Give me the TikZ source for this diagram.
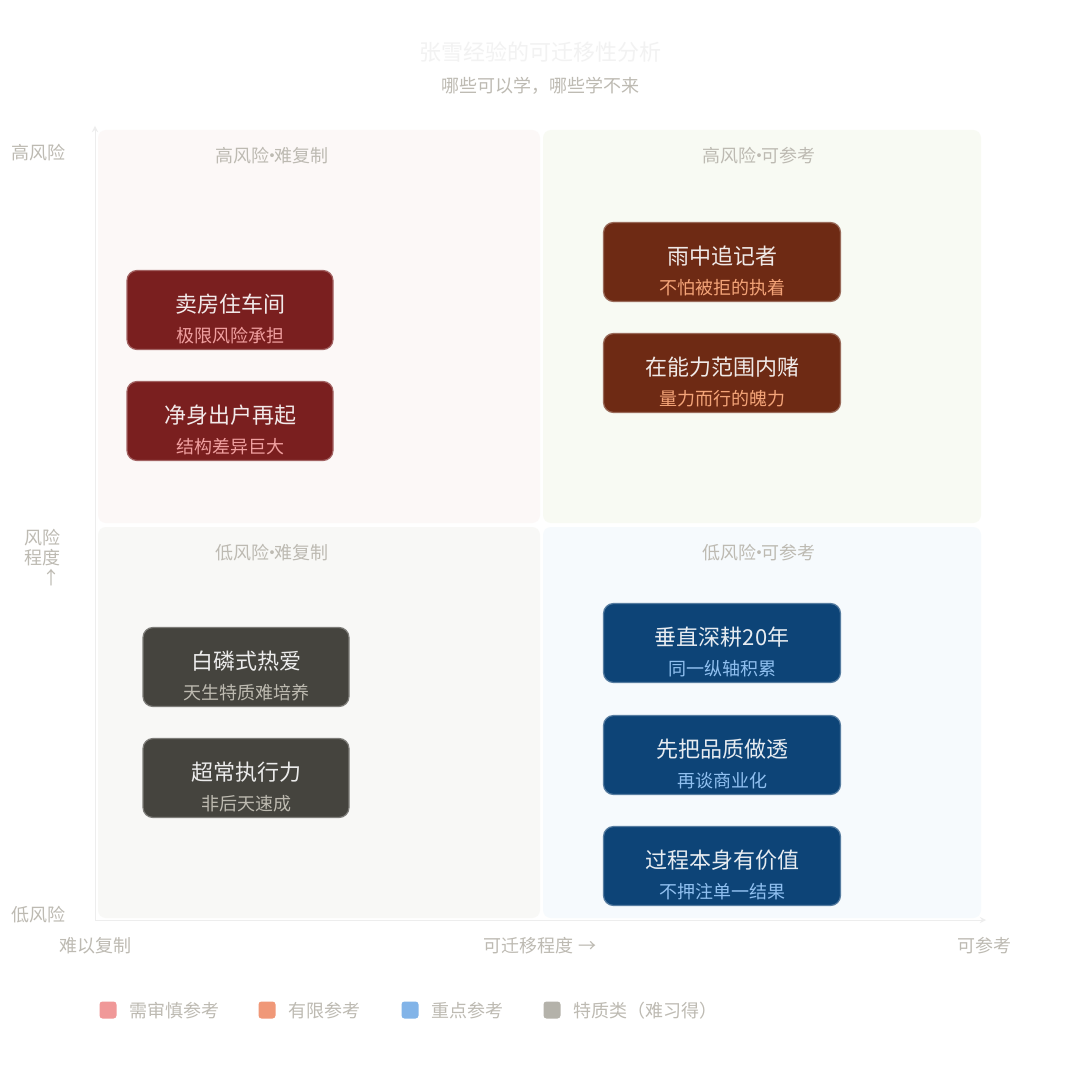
\documentclass[tikz,border=0pt]{standalone}
\usepackage{fontspec}
\newfontfamily\cjk{Noto Sans CJK SC}
\newcommand\md{\kern-3.2pt·\kern-3.2pt}
\definecolor{lbl}{HTML}{BDBAB2}
\tikzset{
 quad/.style={rounded corners=4pt,draw=none},
 card/.style={rounded corners=5pt,draw=#1!70!white,line width=0.6pt,fill=#1},
 qt/.style={text=lbl,font=\cjk\fontsize{9}{10}\selectfont},
 ax/.style={text=lbl,font=\cjk\fontsize{9}{10}\selectfont},
 leg/.style={rounded corners=1.5pt,minimum size=8.5pt,inner sep=0pt},
}
\definecolor{cred}{HTML}{7A1F1F}
\definecolor{cbrown}{HTML}{6E2A14}
\definecolor{cgray}{HTML}{45443E}
\definecolor{cblue}{HTML}{0D4477}
\begin{document}
\begin{tikzpicture}[x=0.5pt,y=-0.5pt]
\useasboundingbox[fill=white] (0,0) rectangle (1080,1080);
\node[font=\cjk\fontsize{11}{12}\selectfont,text=black!5] (title) at (540,52) {张雪经验的可迁移性分析};
\node[ax] (sub) at (540,86) {哪些可以学，哪些学不来};
\fill[quad,fill={rgb,255:red,252;green,248;blue,247}] (98,130) rectangle (540,523);
\fill[quad,fill={rgb,255:red,248;green,250;blue,243}] (543,130) rectangle (981,523);
\fill[quad,fill={rgb,255:red,248;green,248;blue,246}] (98,527) rectangle (540,918);
\fill[quad,fill={rgb,255:red,246;green,250;blue,253}] (543,527) rectangle (981,918);
\coordinate (o) at (95,920); \coordinate (yt) at (95,126); \coordinate (xt) at (986,920);
\draw[black!7,-stealth] (o) -- (yt);
\draw[black!7,-stealth] (o) -- (xt);
\node[qt] (q1) at (272,156) {高风险\md 难复制};
\node[qt] (q2) at (759,156) {高风险\md 可参考};
\node[qt] (q3) at (272,553) {低风险\md 难复制};
\node[qt] (q4) at (759,553) {低风险\md 可参考};
\node[ax] (hi) at (38,153) {高风险};
\node[ax] (lo) at (38,915) {低风险};
\node[ax,align=right,anchor=east] (yl) at (68,558) {风险\\程度\\↑};
\node[ax] (xl1) at (95,946) {难以复制};
\node[ax] (xl2) at (540,946) {可迁移程度 →};
\node[ax] (xl3) at (984,946) {可参考};
\foreach \n/\x/\y/\w/\c/\t/\s/\sc in {
 a/230/310/206/cred/卖房住车间/极限风险承担/{F0A0A0},
 b/230/421/206/cred/净身出户再起/结构差异巨大/{F0A0A0},
 c/722/262/237/cbrown/雨中追记者/不怕被拒的执着/{F4A478},
 d/722/373/237/cbrown/在能力范围内赌/量力而行的魄力/{F4A478},
 e/246/667/206/cgray/白磷式热爱/天生特质难培养/{BDBAB0},
 f/246/778/206/cgray/超常执行力/非后天速成/{BDBAB0},
 g/722/643/237/cblue/垂直深耕20年/同一纵轴积累/{90C0F0},
 h/722/755/237/cblue/先把品质做透/再谈商业化/{90C0F0},
 i/722/866/237/cblue/过程本身有价值/不押注单一结果/{90C0F0}}{
 \definecolor{subc}{HTML}{\sc}
 \node[card=\c,minimum width=\w*0.5pt,minimum height=39.5pt,inner sep=0pt] (\n) at (\x,\y) {};
 \node[font=\cjk\fontsize{11}{12}\selectfont,text=white!90!\c] (\n t) at ([yshift=3pt]\n.center) {\t};
 \node[font=\cjk\fontsize{9}{10}\selectfont,text=subc] (\n s) at ([yshift=-13pt]\n.center) {\s};
}
\node[leg,fill={rgb,255:red,240;green,152;blue,152}] (l1) at (108,1010) {};
\node[ax,anchor=west] (l1t) at (122,1011) {需审慎参考};
\node[leg,fill={rgb,255:red,240;green,152;blue,120}] (l2) at (267,1010) {};
\node[ax,anchor=west] (l2t) at (281,1011) {有限参考};
\node[leg,fill={rgb,255:red,130;green,180;blue,232}] (l3) at (410,1010) {};
\node[ax,anchor=west] (l3t) at (424,1011) {重点参考};
\node[leg,fill={rgb,255:red,180;green,178;blue,170}] (l4) at (552,1010) {};
\node[ax,anchor=west] (l4t) at (566,1011) {特质类（难习得）};
\end{tikzpicture}
\end{document}
